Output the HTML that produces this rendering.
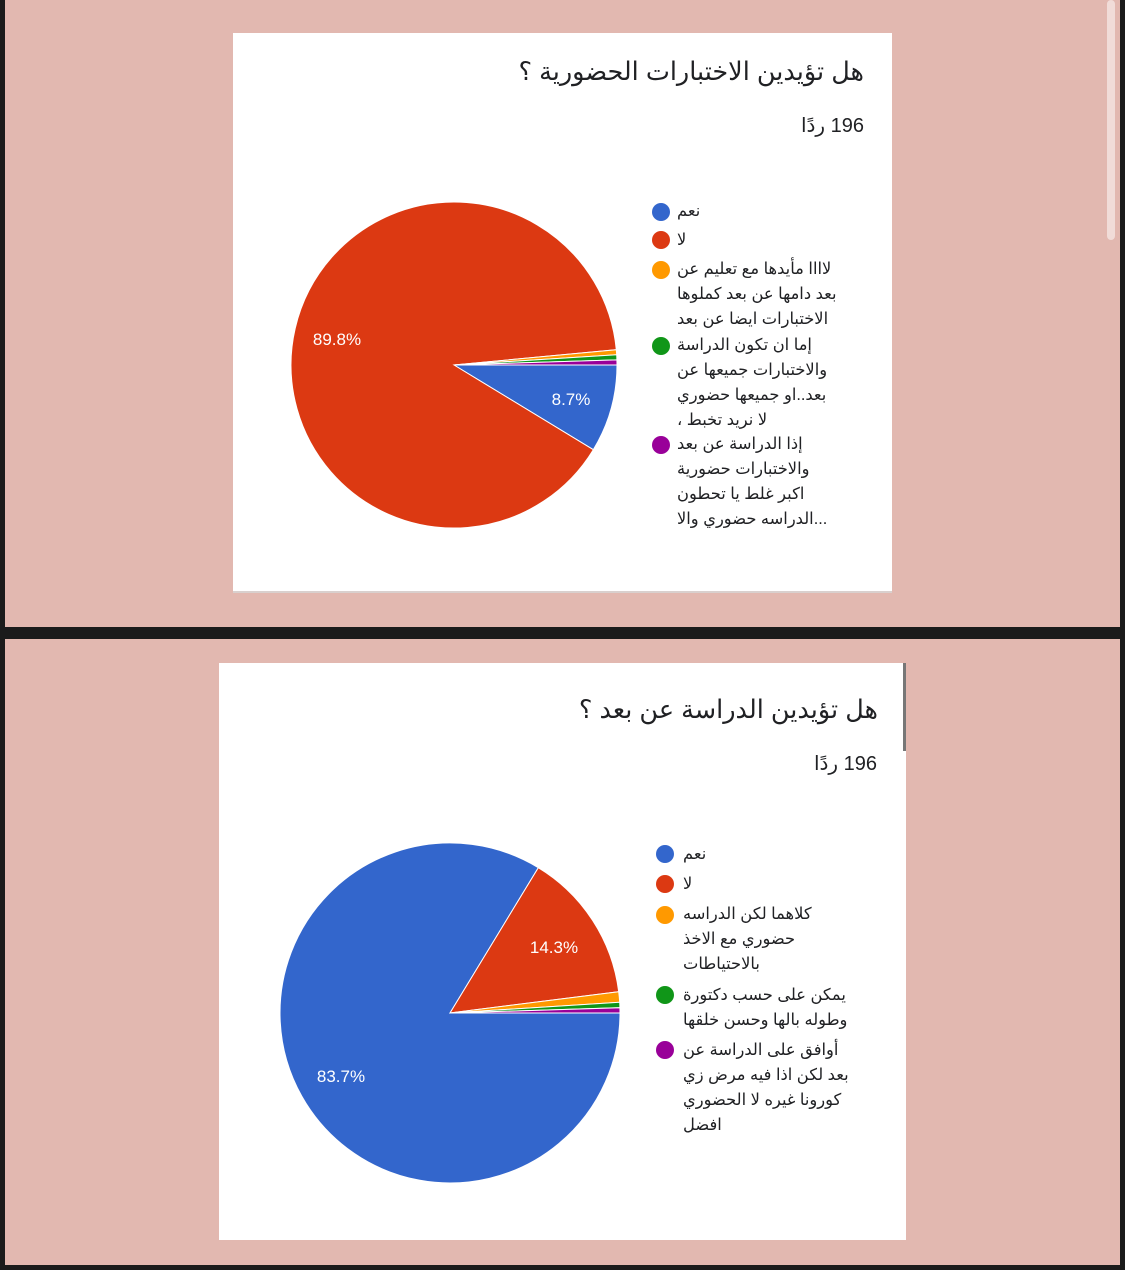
<!DOCTYPE html>
<html><head><meta charset="utf-8"><style>
html,body{margin:0;padding:0;}
body{width:1125px;height:1270px;position:relative;background:#e2b8b0;overflow:hidden;font-family:"Liberation Sans","Noto Sans CJK SC","DejaVu Sans",sans-serif;}
.a{position:absolute;}
.t{position:absolute;direction:rtl;white-space:nowrap;color:#202124;}
.lg{position:absolute;direction:rtl;white-space:nowrap;color:#202124;font-size:16.3px;line-height:25px;text-align:left;width:180px;}
.dot{position:absolute;width:18px;height:18px;border-radius:50%;}
</style></head><body>
<div class="a" style="left:0;top:0;width:5px;height:1270px;background:#1b1b1b"></div>
<div class="a" style="left:1120px;top:0;width:5px;height:1270px;background:#1b1b1b"></div>
<div class="a" style="left:0;top:627px;width:1125px;height:12px;background:#1b1b1b"></div>
<div class="a" style="left:0;top:1265px;width:1125px;height:5px;background:#1b1b1b"></div>
<div class="a" style="left:1107px;top:0;width:8px;height:240px;background:#f1dcd8;border-radius:4px"></div>

<div class="a" style="left:233px;top:33px;width:659px;height:558px;background:#fff;border-bottom:2px solid #d9d0ce"></div>
<div class="a" style="left:219px;top:663px;width:687px;height:577px;background:#fff"></div>
<div class="a" style="left:903px;top:663px;width:3px;height:88px;background:#777"></div>

<div class="t" style="right:261px;top:57px;font-size:25.5px">هل تؤيدين الاختبارات الحضورية ؟</div>
<div class="t" style="right:261px;top:113px;font-size:20px">196 ردًا</div>
<div class="t" style="right:247px;top:695px;font-size:25.5px">هل تؤيدين الدراسة عن بعد ؟</div>
<div class="t" style="right:248px;top:751px;font-size:20px">196 ردًا</div>

<svg class="a" style="left:0;top:0" width="1125" height="1270">
<g stroke="#fff" stroke-width="1">
<path d="M454,365 L617,365 A163,163 0 0 1 593.3,449.7 Z" fill="#3366cc"/>
<path d="M454,365 L593.3,449.7 A163,163 0 1 1 616.3,349.7 Z" fill="#dc3912"/>
<path d="M454,365 L616.3,349.7 A163,163 0 0 1 616.7,354.8 Z" fill="#ff9900"/>
<path d="M454,365 L616.7,354.8 A163,163 0 0 1 616.9,359.9 Z" fill="#109618"/>
<path d="M454,365 L616.9,359.9 A163,163 0 0 1 617,365 Z" fill="#990099"/>
<path d="M450,1013 L620,1013 A170,170 0 1 1 538.3,867.7 Z" fill="#3366cc"/>
<path d="M450,1013 L538.3,867.7 A170,170 0 0 1 618.7,991.7 Z" fill="#dc3912"/>
<path d="M450,1013 L618.7,991.7 A170,170 0 0 1 619.7,1002.3 Z" fill="#ff9900"/>
<path d="M450,1013 L619.7,1002.3 A170,170 0 0 1 619.9,1007.7 Z" fill="#109618"/>
<path d="M450,1013 L619.9,1007.7 A170,170 0 0 1 620,1013 Z" fill="#990099"/>
</g>
<g fill="#fff" font-family="Liberation Sans, sans-serif" font-size="17" text-anchor="middle">
<text x="337" y="345">89.8%</text>
<text x="571" y="405">8.7%</text>
<text x="554" y="953">14.3%</text>
<text x="341" y="1082">83.7%</text>
</g>
</svg>

<div class="dot" style="left:652px;top:203px;background:#3366cc"></div>
<div class="dot" style="left:652px;top:231px;background:#dc3912"></div>
<div class="dot" style="left:652px;top:261px;background:#ff9900"></div>
<div class="dot" style="left:652px;top:337px;background:#109618"></div>
<div class="dot" style="left:652px;top:436px;background:#990099"></div>
<div class="lg" style="left:677px;top:199px">نعم</div>
<div class="lg" style="left:677px;top:228px">لا</div>
<div class="lg" style="left:677px;top:257px">لاااا مأيدها مع تعليم عن<br>بعد دامها عن بعد كملوها<br>الاختبارات ايضا عن بعد</div>
<div class="lg" style="left:677px;top:333px">إما ان تكون الدراسة<br>والاختبارات جميعها عن<br>بعد..او جميعها حضوري<br>لا نريد تخبط ،</div>
<div class="lg" style="left:677px;top:432px">إذا الدراسة عن بعد<br>والاختبارات حضورية<br>اكبر غلط يا تحطون<br>...الدراسه حضوري والا</div>

<div class="dot" style="left:656px;top:845px;background:#3366cc"></div>
<div class="dot" style="left:656px;top:875px;background:#dc3912"></div>
<div class="dot" style="left:656px;top:906px;background:#ff9900"></div>
<div class="dot" style="left:656px;top:986px;background:#109618"></div>
<div class="dot" style="left:656px;top:1041px;background:#990099"></div>
<div class="lg" style="left:683px;top:842px">نعم</div>
<div class="lg" style="left:683px;top:872px">لا</div>
<div class="lg" style="left:683px;top:902px">كلاهما لكن الدراسه<br>حضوري مع الاخذ<br>بالاحتياطات</div>
<div class="lg" style="left:683px;top:983px">يمكن على حسب دكتورة<br>وطوله بالها وحسن خلقها</div>
<div class="lg" style="left:683px;top:1038px">أوافق على الدراسة عن<br>بعد لكن اذا فيه مرض زي<br>كورونا غيره لا الحضوري<br>افضل</div>
</body></html>
